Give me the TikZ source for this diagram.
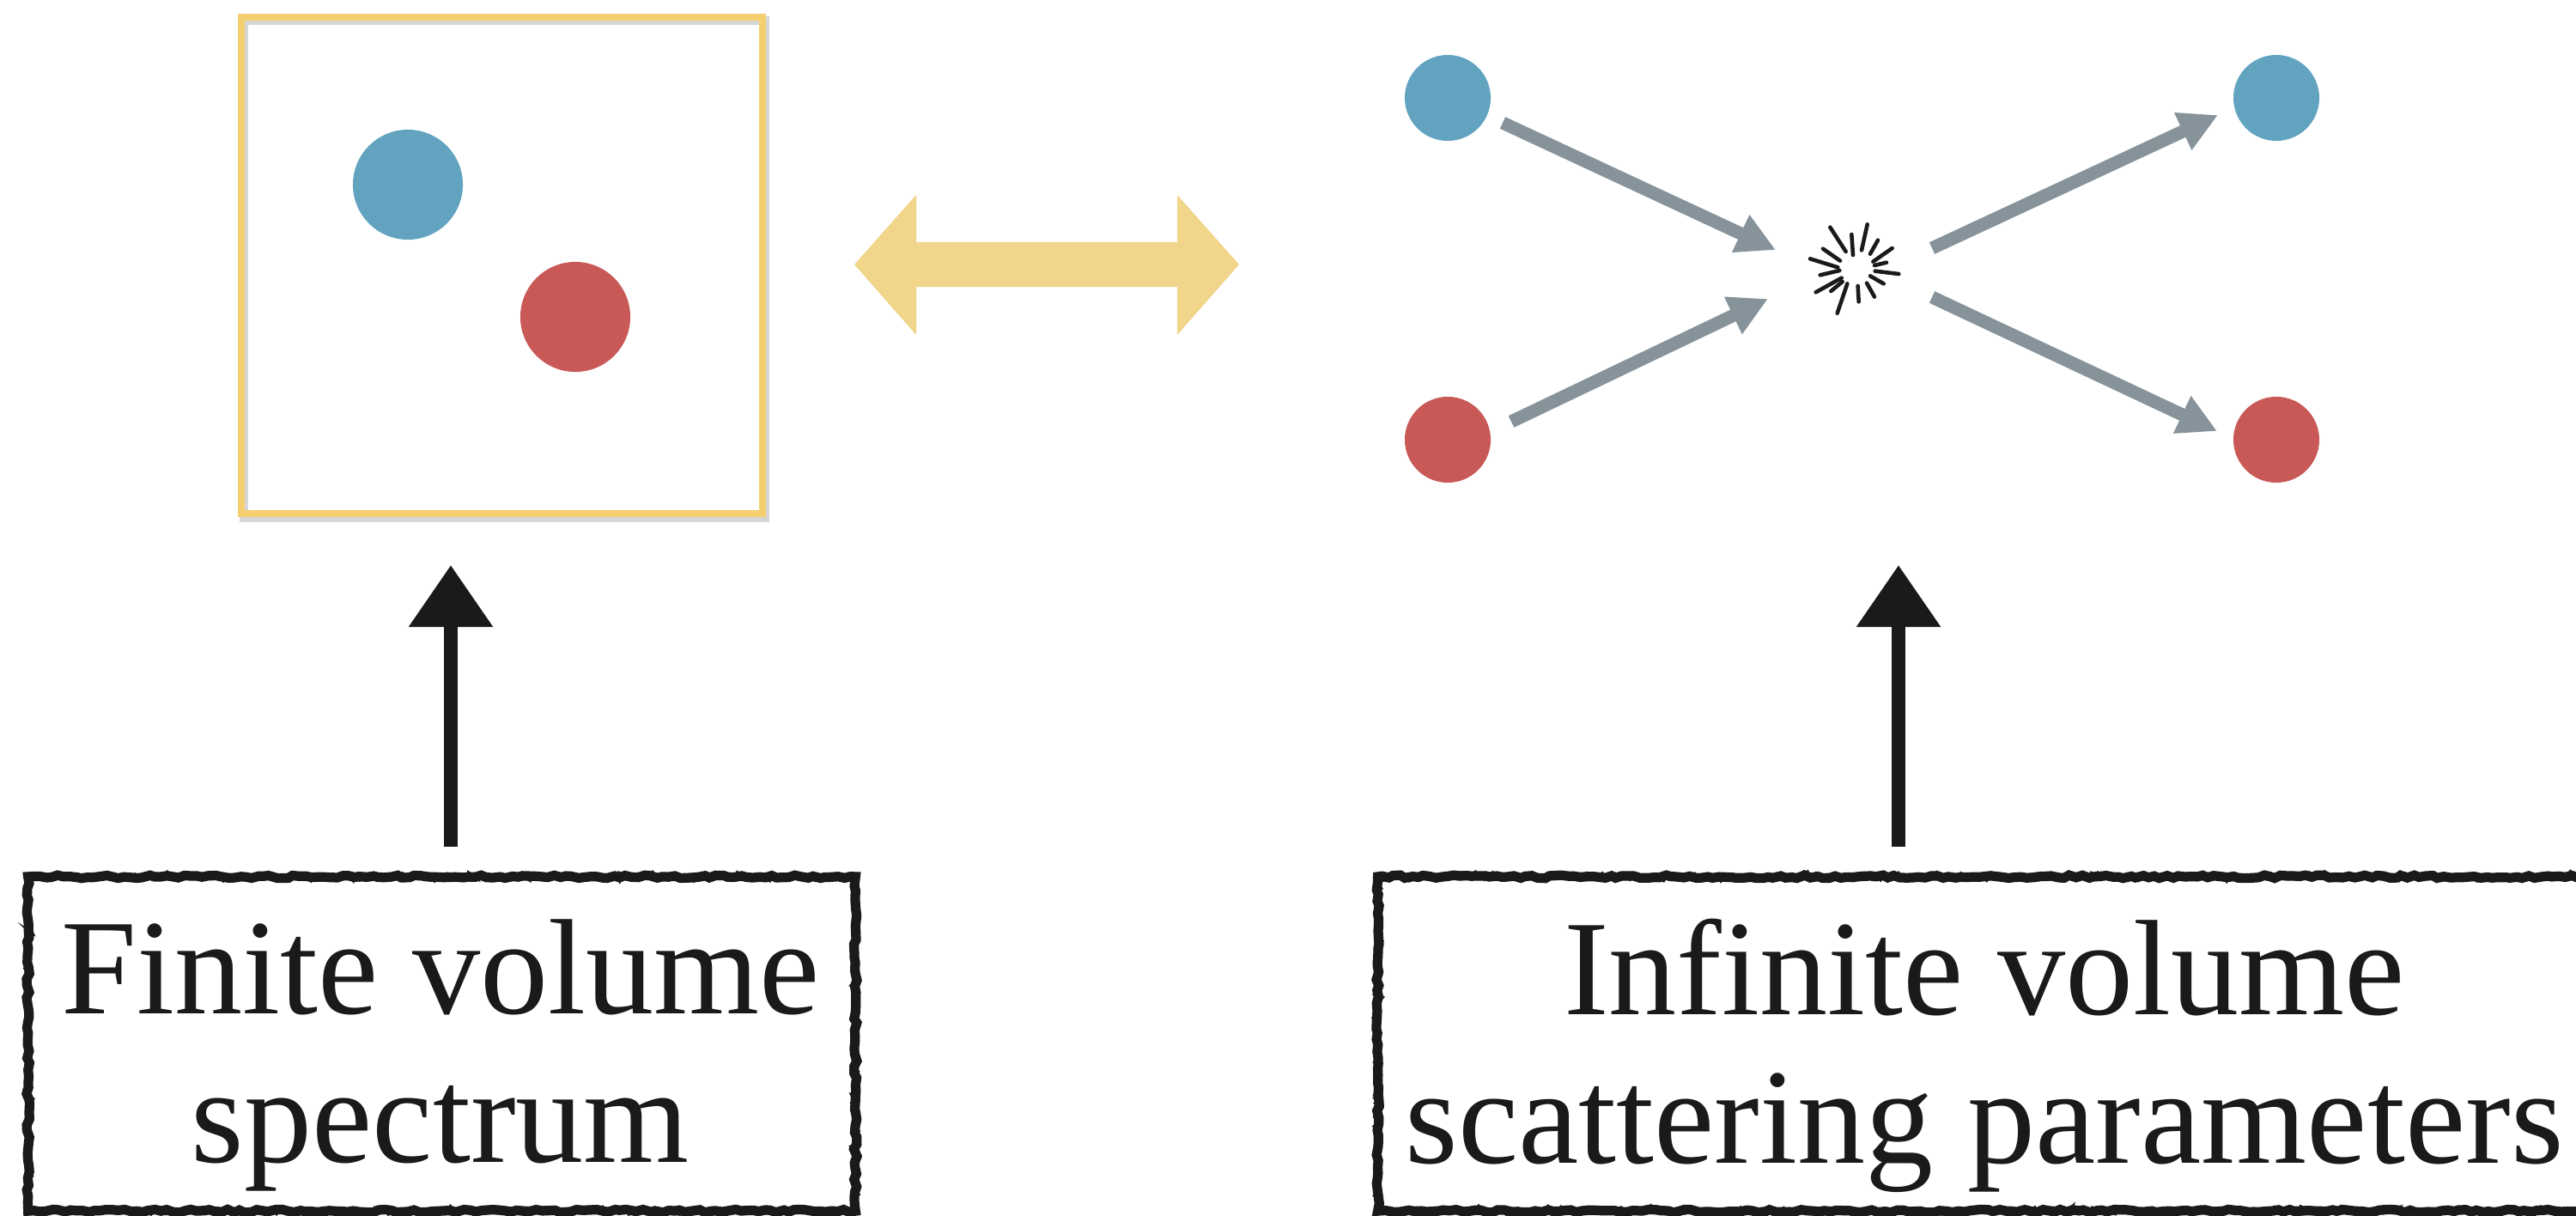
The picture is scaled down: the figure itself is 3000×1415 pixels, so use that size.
\documentclass[tikz,border=0pt]{standalone}
\usepackage{fontspec}
\newfontfamily\captionfont{Liberation Serif}
\usetikzlibrary{arrows.meta,decorations.pathmorphing}
\definecolor{ballblue}{HTML}{62A4C0}
\definecolor{ballred}{HTML}{C85957}
\definecolor{flowgrey}{HTML}{87939A}
\definecolor{frameyellow}{HTML}{F5CF6F}
\definecolor{linkyellow}{HTML}{F0D58A}
\definecolor{ink}{HTML}{1A1A1A}
\begin{document}
\begin{tikzpicture}[x=0.01cm, y=-0.01cm,
  bigball/.style={circle, fill=#1, draw=none, minimum size=1.28cm, inner sep=0pt},
  smallball/.style={circle, fill=#1, draw=none, minimum size=1.0cm, inner sep=0pt},
  flow/.style={draw=flowgrey, line width=0.15cm, -{Triangle[length=0.45cm, width=0.45cm]}},
  pointer/.style={draw=ink, line width=0.16cm, -{Triangle[length=0.72cm, width=0.94cm]}},
  roughbox/.style={draw=ink, line width=3.2pt, inner sep=0pt,
    decorate, decoration={random steps, segment length=2pt, amplitude=0.5pt},
    postaction={draw=ink, line width=1.0pt, decorate,
      decoration={random steps, segment length=1.3pt, amplitude=1.4pt}}},
  caption/.style={font=\captionfont\fontsize{45}{49.2}\selectfont, text=ink, align=center, inner sep=0pt},
  spark/.style={draw=ink, line width=1.3pt, line cap=round}]
\pgfmathsetseed{7}
\useasboundingbox (0,0) rectangle (3000,1415);
\clip (0,0) rectangle (3000,1415);
\fill[white] (0,0) rectangle (3000,1415);

% finite box with a soft shadow
\draw[black!35, opacity=0.45, line width=0.10cm] (284,24) rectangle (891,603);
\draw[frameyellow, line width=0.08cm, fill=none] (281,20) rectangle (888,598);
\node[bigball=ballblue] (fb) at (475,215) {};
\node[bigball=ballred] (fr) at (670,369) {};

% two-way link between the pictures
\fill[linkyellow] (995,308) -- (1067,227) -- (1067,282) -- (1371,282) -- (1371,227)
  -- (1443,308) -- (1371,390) -- (1371,334) -- (1067,334) -- (1067,390) -- cycle;

% scattering process
\node[smallball=ballblue] (inb) at (1686,114) {};
\node[smallball=ballred] (inr) at (1686,512) {};
\node[smallball=ballblue] (outb) at (2651,114) {};
\node[smallball=ballred] (outr) at (2651,512) {};
\coordinate (burst) at (2163,313);
\coordinate (inbS) at (1750,143);
\coordinate (inbE) at (2068,291);
\coordinate (inrS) at (1760,491);
\coordinate (inrE) at (2059,348);
\coordinate (outbS) at (2250,289);
\coordinate (outbE) at (2583,134);
\coordinate (outrS) at (2250,346);
\coordinate (outrE) at (2582,502);
\draw[flow] (inbS) -- (inbE);
\draw[flow] (inrS) -- (inrE);
\draw[flow] (outbS) -- (outbE);
\draw[flow] (outrS) -- (outrE);

% collision spark
\begin{scope}[shift={(burst)}, scale=1/3]
  \foreach \ax/\ay/\bx/\by in {
    -95/-145/-40/-60, 35/-155/15/-65, -20/-120/-15/-48, 72/-100/45/-52,
    122/-72/55/-25, 102/-22/60/-12, 145/18/62/8, 92/52/45/25,
    60/98/33/50, 5/115/2/60, -70/155/-35/52, -145/82/-55/32,
    -92/78/-52/45, -130/22/-62/6, -165/-35/-68/-5, -120/-70/-60/-28}
    \draw[spark] (\ax,\ay) -- (\bx,\by);
\end{scope}

% captions and their pointers
\node[roughbox, minimum width=9.63cm, minimum height=3.89cm] (fvbox) at (514.5,1215.5) {};
\node[caption] (fvtext) at (513,1229) {Finite volume\\spectrum};
\node[roughbox, minimum width=14.10cm, minimum height=3.89cm] (ivbox) at (2310,1215.5) {};
\node[caption] (ivtext) at (2311,1229) {Infinite volume\\scattering parameters};
\coordinate (fvS) at (525,986);
\coordinate (fvE) at (525,658);
\coordinate (ivS) at (2211,986);
\coordinate (ivE) at (2211,658);
\draw[pointer] (fvS) -- (fvE);
\draw[pointer] (ivS) -- (ivE);
\end{tikzpicture}
\end{document}
